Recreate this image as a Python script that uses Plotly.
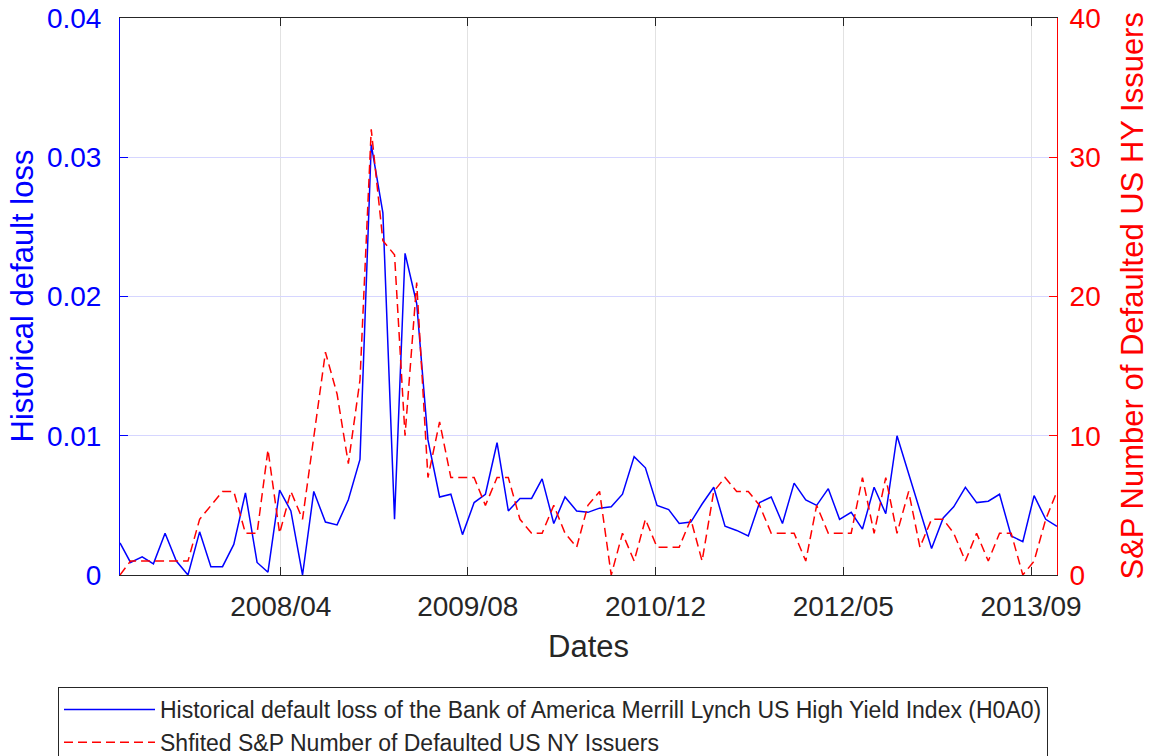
import pandas as pd
import plotly.graph_objects as go

# Monthly observations (month-end), Jan 2007 - Nov 2013
months = pd.date_range("2007-02-01", periods=83, freq="MS") - pd.Timedelta(days=1)

# Historical default loss of the BofA ML US High Yield Index (H0A0)
default_loss = [
    0.0023, 0.0009, 0.0013, 0.0008, 0.0030, 0.0010, 0.0000, 0.0031, 0.0006, 0.0006,
    0.0022, 0.0059, 0.0009, 0.0002, 0.0061, 0.0046, 0.0000, 0.0060, 0.0038, 0.0036,
    0.0054, 0.0083, 0.0309, 0.0260, 0.0040, 0.0231, 0.0195, 0.0097, 0.0056, 0.0058,
    0.0029, 0.0052, 0.0058, 0.0095, 0.0046, 0.0055, 0.0055, 0.0069, 0.0037, 0.0056,
    0.0046, 0.0045, 0.0048, 0.0049, 0.0058, 0.0085, 0.0077, 0.0050, 0.0047, 0.0037,
    0.0038, 0.0051, 0.0063, 0.0035, 0.0032, 0.0028, 0.0052, 0.0056, 0.0037, 0.0066,
    0.0054, 0.0050, 0.0062, 0.0040, 0.0045, 0.0033, 0.0063, 0.0044, 0.0100, 0.0073,
    0.0047, 0.0019, 0.0041, 0.0049, 0.0063, 0.0052, 0.0053, 0.0058, 0.0028, 0.0024,
    0.0057, 0.0040, 0.0035,
]

# Shifted S&P count of defaulted US high-yield issuers
defaulted_issuers = [
    0, 1, 1, 1, 1, 1, 1, 4, 5, 6,
    6, 3, 3, 9, 3, 6, 4, 10, 16, 13,
    8, 14, 32, 24, 23, 10, 21, 7, 11, 7,
    7, 7, 5, 7, 7, 4, 3, 3, 5, 3,
    2, 5, 6, 0, 3, 1, 4, 2, 2, 2,
    4, 1, 6, 7, 6, 6, 5, 3, 3, 3,
    1, 5, 3, 3, 3, 7, 3, 7, 3, 6,
    2, 4, 4, 3, 1, 3, 1, 3, 3, 0,
    1, 4, 6,
]

x_tick_dates = ["2008-04-03", "2009-08-14", "2010-12-27", "2012-05-10", "2013-09-22"]
x_tick_labels = ["2008/04", "2009/08", "2010/12", "2012/05", "2013/09"]
left_ticks = [0, 0.01, 0.02, 0.03, 0.04]
left_tick_labels = ["0", "0.01", "0.02", "0.03", "0.04"]
right_ticks = [0, 10, 20, 30, 40]
right_tick_labels = ["0", "10", "20", "30", "40"]

BLUE = "#0000ff"
RED = "#ff0000"
DARK = "#262626"
FONT = "Liberation Sans, Arial, sans-serif"

fig = go.Figure()
fig.add_trace(go.Scatter(
    x=months, y=default_loss, mode="lines",
    line=dict(color=BLUE, width=1.5),
    name="Historical default loss of the Bank of America Merrill Lynch US High Yield Index (H0A0)",
))
fig.add_trace(go.Scatter(
    x=months, y=defaulted_issuers, mode="lines", yaxis="y2",
    line=dict(color=RED, width=1.5, dash="9px,5px"),
    name="Shfited S&P Number of Defaulted US NY Issuers",
))

fig.update_layout(
    width=1154, height=756,
    margin=dict(l=120, r=97, t=18, b=181, pad=0, autoexpand=False),
    paper_bgcolor="white", plot_bgcolor="white",
    font=dict(family=FONT, color=DARK),
    showlegend=True,
    legend=dict(
        xref="container", yref="container",
        x=58 / 1154, y=1 - 687 / 756, xanchor="left", yanchor="top",
        bordercolor=DARK, borderwidth=1, bgcolor="white",
        font=dict(size=23, family=FONT, color=DARK),
        itemwidth=91, tracegroupgap=0,
    ),
    xaxis=dict(
        type="date", range=["2007-01-31", "2013-11-30"], automargin=False,
        tickmode="array", tickvals=x_tick_dates, ticktext=x_tick_labels,
        ticks="inside", ticklen=8, tickcolor=DARK, tickwidth=1,
        showline=True, linecolor=DARK, linewidth=1, mirror="ticks",
        showgrid=True, gridcolor="#e2e2e2", gridwidth=1,
        zeroline=False,
        tickfont=dict(size=28, color=DARK),
        ticklabelstandoff=6,
        title=dict(text="Dates", font=dict(size=31, color=DARK), standoff=14),
    ),
    yaxis=dict(
        range=[0, 0.04], automargin=False,
        tickmode="array", tickvals=left_ticks, ticktext=left_tick_labels,
        ticks="inside", ticklen=8, tickcolor=BLUE, tickwidth=1,
        showline=True, linecolor=BLUE, linewidth=1,
        showgrid=True, gridcolor="#d6d6ff", gridwidth=1,
        zeroline=False,
        tickfont=dict(size=28, color=BLUE),
        ticklabelstandoff=12,
    ),
    yaxis2=dict(
        overlaying="y", side="right", range=[0, 40], automargin=False,
        tickmode="array", tickvals=right_ticks, ticktext=right_tick_labels,
        ticks="inside", ticklen=8, tickcolor=RED, tickwidth=1,
        showline=True, linecolor=RED, linewidth=1,
        showgrid=False, zeroline=False,
        tickfont=dict(size=28, color=RED),
        ticklabelstandoff=6,
    ),
)

# Vertical axis titles for the two y axes
fig.add_annotation(
    text="Historical default loss", xref="paper", yref="paper",
    x=(22 - 120) / 937, y=0.5, xanchor="center", yanchor="middle",
    textangle=-90, showarrow=False, font=dict(size=31, color=BLUE, family=FONT),
)
fig.add_annotation(
    text="S&P Number of Defaulted US HY Issuers", xref="paper", yref="paper",
    x=(1132 - 120) / 937, y=0.5, xanchor="center", yanchor="middle",
    textangle=-90, showarrow=False, font=dict(size=31, color=RED, family=FONT),
)

fig.write_html("out.html")
